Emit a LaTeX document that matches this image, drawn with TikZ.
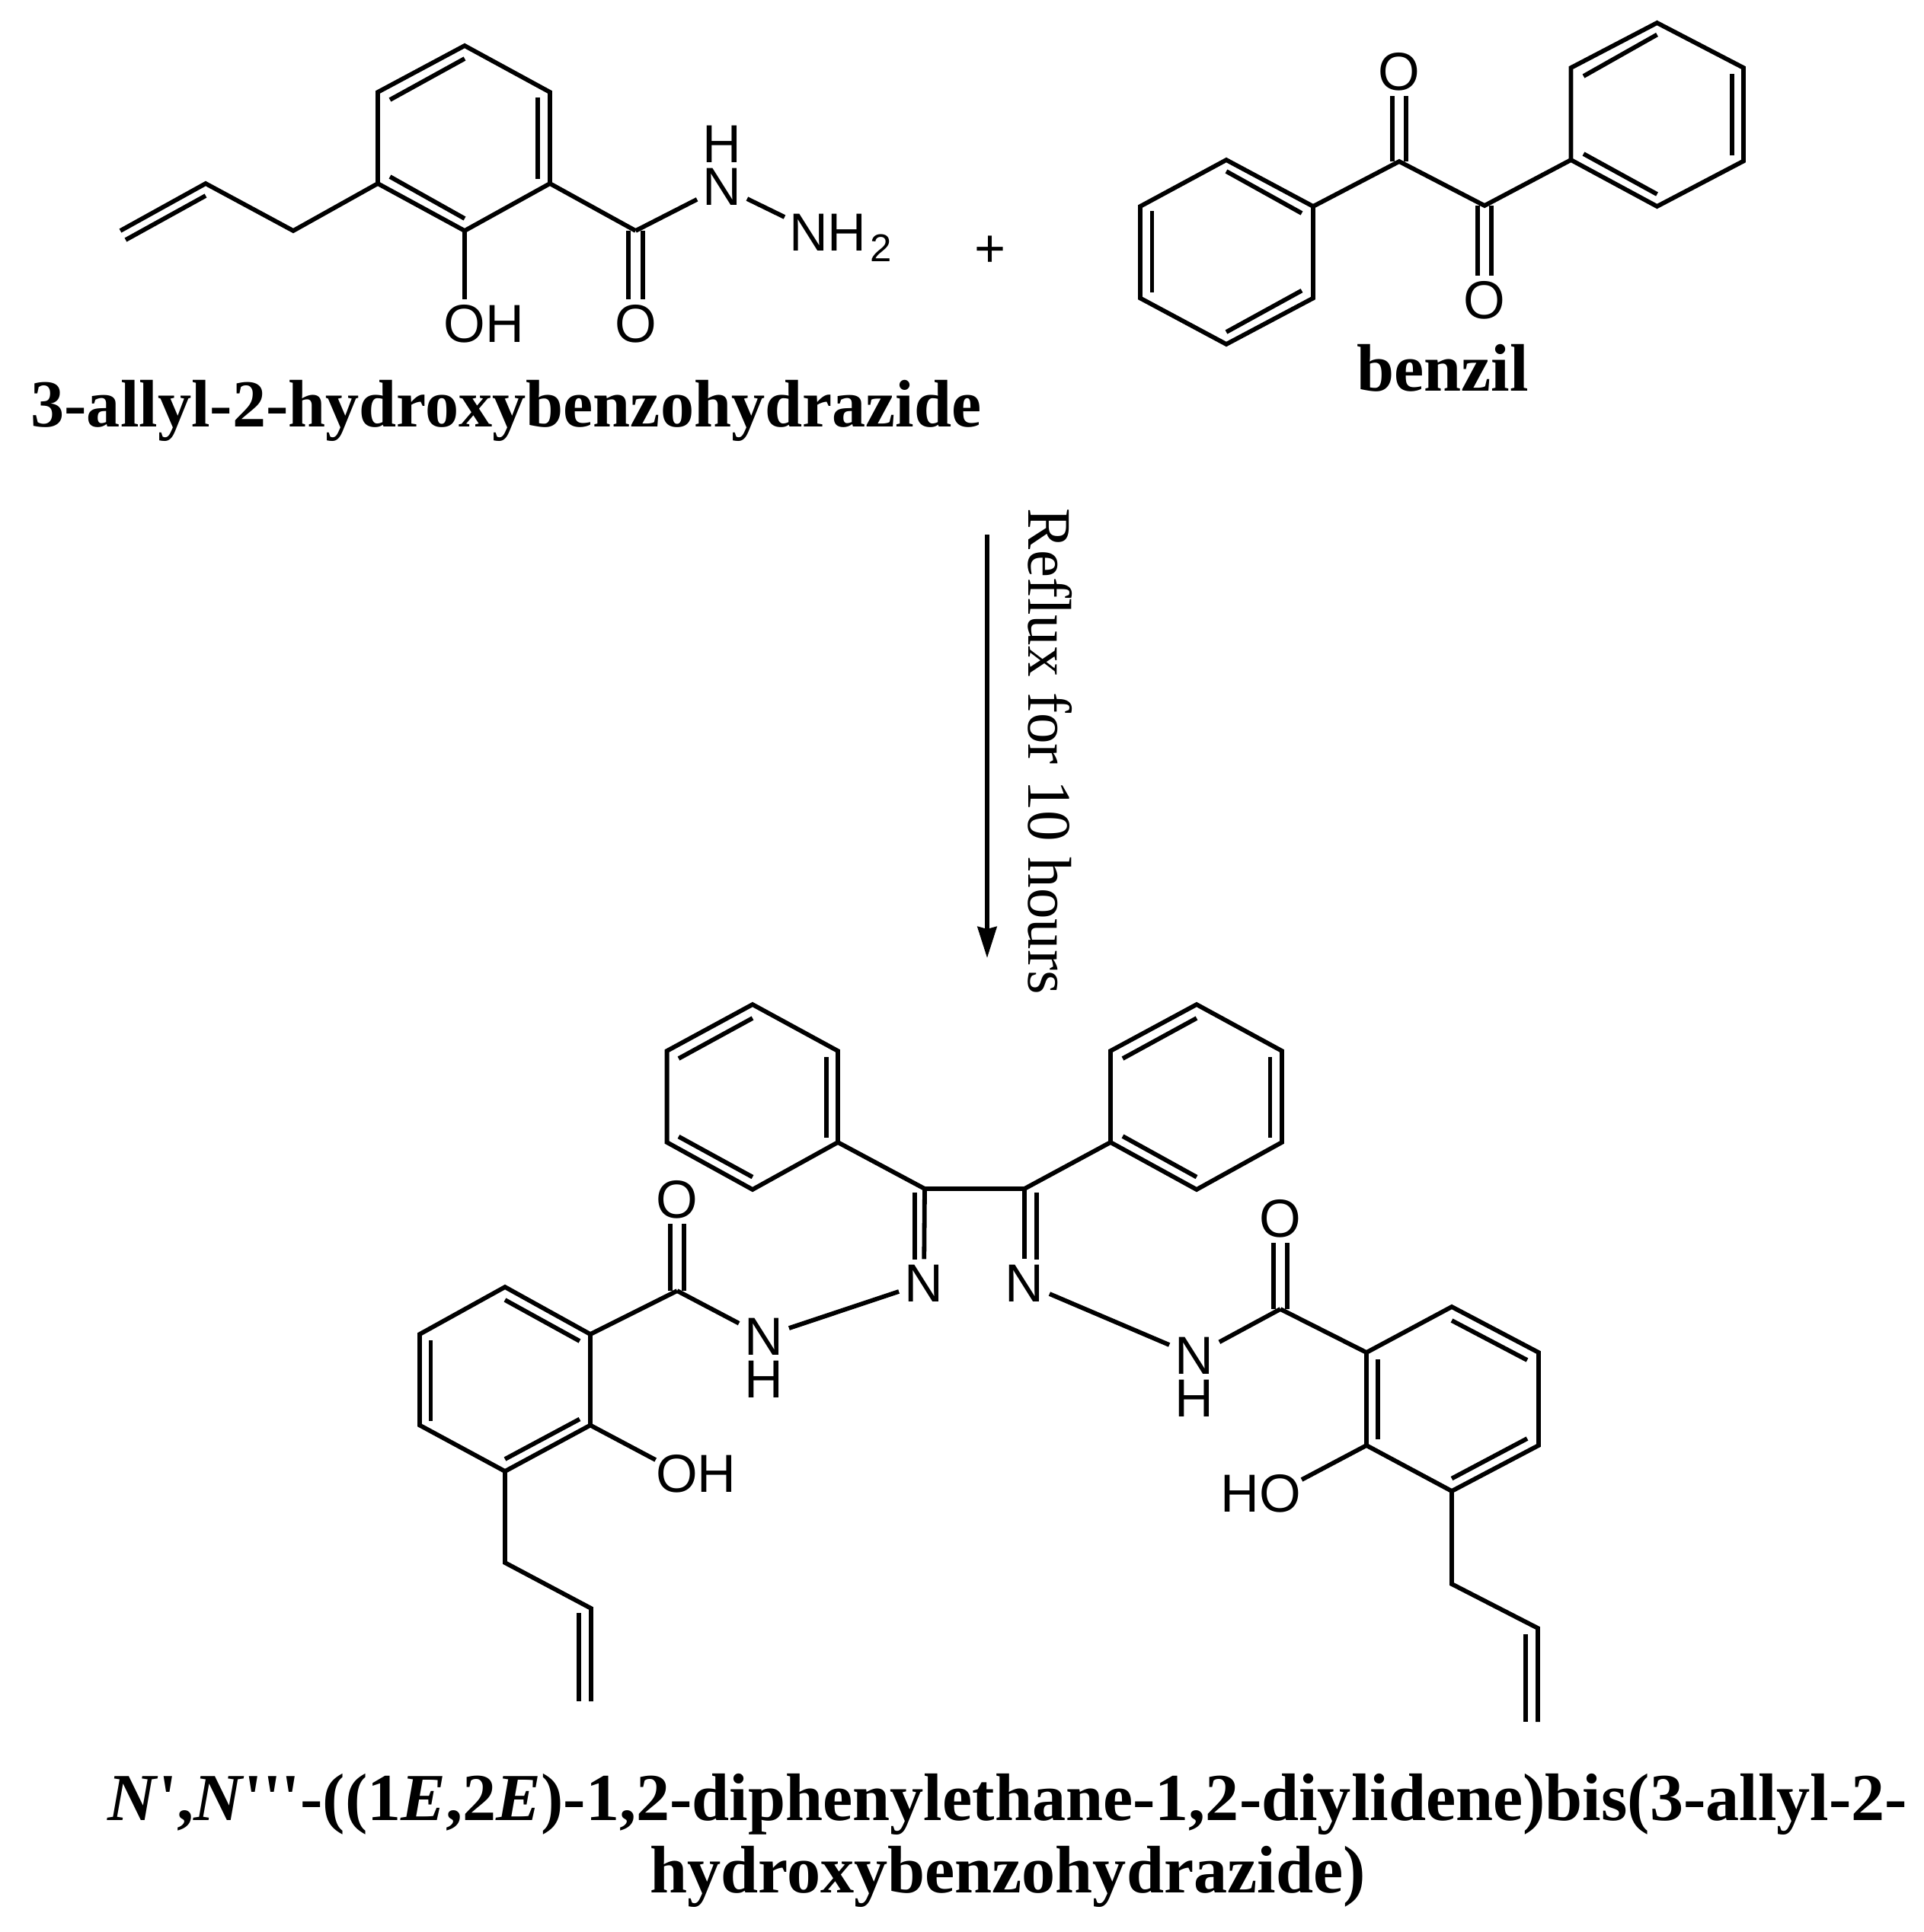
\documentclass[tikz,border=0pt]{standalone}
\usepackage{fontspec}
\usetikzlibrary{arrows.meta}
\newfontfamily\atomfont{Liberation Sans}
\newfontfamily\namefont[Ligatures=NoCommon]{Liberation Serif}

\begin{document}
\begin{tikzpicture}[
    line width=.058cm,
    atomnode/.style={font=\atomfont\fontsize{20pt}{22pt}\selectfont, inner sep=0pt, outer sep=.075cm},
    namenode/.style={font=\namefont\bfseries\fontsize{25.1pt}{27pt}\selectfont, inner sep=0pt, align=center},
    dblbond/.style={double, double distance=.125cm},
    ]
    \useasboundingbox (0,0) rectangle (25.25,-25.37);

    % hydrazide, top left
    \coordinate (a1) at (6.10,-.60);
    \coordinate (a2) at (7.22,-1.21);
    \coordinate (a3) at (7.22,-2.41);
    \coordinate (a4) at (6.10,-3.03);
    \coordinate (a5) at (4.96,-2.41);
    \coordinate (a6) at (4.96,-1.21);
    \coordinate (a7) at (3.85,-3.03);
    \coordinate (a8) at (2.70,-2.41);
    \coordinate (a9) at (1.58,-3.03);
    \coordinate (a10) at (8.345,-3.03);
    \coordinate (a1i) at (6.10,-.77);
    \coordinate (a6i) at (5.12,-1.31);
    \coordinate (a2i) at (7.06,-1.28);
    \coordinate (a3i) at (7.06,-2.35);
    \coordinate (a5i) at (5.12,-2.32);
    \coordinate (a4i) at (6.10,-2.87);
    \coordinate (a8i) at (2.70,-2.57);
    \coordinate (a9i) at (1.65,-3.15);
    \coordinate (a11) at (10.30,-2.85);

    \node [atomnode] (oh1) at (6.355,-4.255) {OH};
    \node [atomnode] (o1) at (8.345,-4.255) {O};
    \node [atomnode] (n1) at (9.48,-2.45) {N};
    \node [atomnode] (h1) at (9.48,-1.89) {H};
    \node [atomnode, anchor=base west, outer sep=0pt] (nh2) at (10.36,-3.29) {NH\kern.05cm\raisebox{-.14cm}{\fontsize{14.5pt}{15pt}\selectfont 2}};
    \node [atomnode] (plus) at (13.00,-3.30) {+};

    \draw [dblbond] (a10) -- (o1);
    \draw (a1) -- (a2) -- (a3) -- (a4) -- (a5) -- (a6) -- cycle;
    \draw (a9) -- (a8) -- (a7) -- (a5);
    \draw (a3) -- (a10);
    \draw (a4) -- (a4 |- oh1.north);
    \draw (a10) -- (n1);
    \draw (n1) -- (a11);
    \draw (a1i) -- (a6i);
    \draw (a2i) -- (a3i);
    \draw (a5i) -- (a4i);
    \draw (a8i) -- (a9i);

    % benzil, top right
    \coordinate (b1) at (16.10,-2.10);
    \coordinate (b2) at (17.24,-2.71);
    \coordinate (b3) at (17.24,-3.915);
    \coordinate (b4) at (16.10,-4.52);
    \coordinate (b5) at (14.97,-3.915);
    \coordinate (b6) at (14.97,-2.71);
    \coordinate (b7) at (18.37,-2.12);
    \coordinate (b8) at (19.49,-2.70);
    \coordinate (c1) at (20.625,-2.10);
    \coordinate (c2) at (20.625,-.89);
    \coordinate (c3) at (21.755,-.30);
    \coordinate (c4) at (22.89,-.89);
    \coordinate (c5) at (22.89,-2.115);
    \coordinate (c6) at (21.755,-2.71);
    \coordinate (b1i) at (16.10,-2.25);
    \coordinate (b2i) at (17.09,-2.80);
    \coordinate (b3i) at (17.09,-3.816);
    \coordinate (b4i) at (16.10,-4.36);
    \coordinate (b5i) at (15.125,-3.836);
    \coordinate (b6i) at (15.125,-2.77);
    \coordinate (c1i) at (20.79,-2.02);
    \coordinate (c2i) at (20.79,-1.00);
    \coordinate (c3i) at (21.755,-.455);
    \coordinate (c4i) at (22.74,-.97);
    \coordinate (c5i) at (22.74,-2.04);
    \coordinate (c6i) at (21.755,-2.55);

    \node [atomnode] (o2) at (18.37,-.94) {O};
    \node [atomnode] (o3) at (19.49,-3.94) {O};

    \draw [dblbond] (b7) -- (o2);
    \draw [dblbond] (b8) -- (o3);
    \draw (b1) -- (b2) -- (b3) -- (b4) -- (b5) -- (b6) -- cycle;
    \draw (c1) -- (c2) -- (c3) -- (c4) -- (c5) -- (c6) -- cycle;
    \draw (b2) -- (b7) -- (b8) -- (c1);
    \draw (b1i) -- (b2i);
    \draw (b3i) -- (b4i);
    \draw (b5i) -- (b6i);
    \draw (c1i) -- (c6i);
    \draw (c2i) -- (c3i);
    \draw (c4i) -- (c5i);

    % reaction arrow
    \coordinate (r1) at (12.96,-7.02);
    \coordinate (r2) at (12.96,-12.58);
    \draw [-{Stealth[length=.41cm,width=.25cm,inset=.03cm]}] (r1) -- (r2);
    \node [font=\namefont\fontsize{23.1pt}{25pt}\selectfont, rotate=-90, anchor=base west, inner sep=0pt] (reflux) at (13.50,-6.65) {Reflux for 10 hours};

    % product, phenyl rings
    \coordinate (d1) at (9.88,-13.19);
    \coordinate (d2) at (11.00,-13.80);
    \coordinate (d3) at (11.00,-15.00);
    \coordinate (d4) at (9.88,-15.62);
    \coordinate (d5) at (8.756,-15.00);
    \coordinate (d6) at (8.756,-13.80);
    \coordinate (d1i) at (9.88,-13.37);
    \coordinate (d6i) at (8.91,-13.90);
    \coordinate (d2i) at (10.85,-13.88);
    \coordinate (d3i) at (10.85,-14.94);
    \coordinate (d5i) at (8.91,-14.925);
    \coordinate (d4i) at (9.88,-15.456);
    \coordinate (e1) at (15.71,-13.19);
    \coordinate (e2) at (16.83,-13.80);
    \coordinate (e3) at (16.83,-15.00);
    \coordinate (e4) at (15.71,-15.62);
    \coordinate (e5) at (14.58,-15.00);
    \coordinate (e6) at (14.58,-13.80);
    \coordinate (e1i) at (15.71,-13.37);
    \coordinate (e6i) at (14.74,-13.90);
    \coordinate (e2i) at (16.675,-13.88);
    \coordinate (e3i) at (16.675,-14.94);
    \coordinate (e5i) at (14.74,-14.92);
    \coordinate (e4i) at (15.71,-15.456);
    \coordinate (m1) at (12.14,-15.61);
    \coordinate (m2) at (13.45,-15.61);
    \coordinate (m1i) at (12.006,-15.66);
    \coordinate (m1j) at (12.006,-16.54);
    \coordinate (m2i) at (13.61,-15.66);
    \coordinate (m2j) at (13.61,-16.54);

    \node [atomnode] (n2) at (12.13,-16.85) {N};
    \node [atomnode] (n3) at (13.45,-16.85) {N};

    \draw (d1) -- (d2) -- (d3) -- (d4) -- (d5) -- (d6) -- cycle;
    \draw (e1) -- (e2) -- (e3) -- (e4) -- (e5) -- (e6) -- cycle;
    \draw (d3) -- (m1) -- (m2) -- (e5);
    \draw (m1) -- (n2);
    \draw (m2) -- (n3);
    \draw (m1i) -- (m1j);
    \draw (m2i) -- (m2j);
    \draw (d1i) -- (d6i);
    \draw (d2i) -- (d3i);
    \draw (d5i) -- (d4i);
    \draw (e1i) -- (e6i);
    \draw (e2i) -- (e3i);
    \draw (e5i) -- (e4i);

    % product, left arm
    \coordinate (f1) at (6.63,-16.90);
    \coordinate (f2) at (7.75,-17.52);
    \coordinate (f3) at (7.75,-18.715);
    \coordinate (f4) at (6.63,-19.32);
    \coordinate (f5) at (5.51,-18.715);
    \coordinate (f6) at (5.51,-17.52);
    \coordinate (f7) at (8.89,-16.95);
    \coordinate (f8) at (6.63,-20.52);
    \coordinate (f9) at (7.76,-21.12);
    \coordinate (f10) at (7.76,-22.34);
    \coordinate (f1i) at (6.63,-17.07);
    \coordinate (f2i) at (7.61,-17.61);
    \coordinate (f3i) at (7.61,-18.635);
    \coordinate (f4i) at (6.63,-19.16);
    \coordinate (f5i) at (5.655,-18.66);
    \coordinate (f6i) at (5.655,-17.60);
    \coordinate (f9i) at (7.60,-21.18);
    \coordinate (f10i) at (7.60,-22.34);
    \coordinate (f11) at (8.607,-19.17);

    \node [atomnode] (o4) at (8.89,-15.75) {O};
    \node [atomnode] (n4) at (10.03,-17.55) {N};
    \node [atomnode] (h4) at (10.03,-18.11) {H};
    \node [atomnode] (oh2) at (9.14,-19.35) {OH};

    \draw [dblbond] (f7) -- (o4);
    \draw (f1) -- (f2) -- (f3) -- (f4) -- (f5) -- (f6) -- cycle;
    \draw (f4) -- (f8) -- (f9) -- (f10);
    \draw (f2) -- (f7);
    \draw (f7) -- (n4);
    \draw (n4) -- (n2);
    \draw (f3) -- (f11);
    \draw (f1i) -- (f2i);
    \draw (f3i) -- (f4i);
    \draw (f5i) -- (f6i);
    \draw (f9i) -- (f10i);

    % product, right arm
    \coordinate (g1) at (19.06,-17.16);
    \coordinate (g2) at (20.20,-17.76);
    \coordinate (g3) at (20.20,-18.98);
    \coordinate (g4) at (19.06,-19.58);
    \coordinate (g5) at (17.94,-18.98);
    \coordinate (g6) at (17.94,-17.76);
    \coordinate (g7) at (16.81,-17.19);
    \coordinate (g8) at (19.06,-20.80);
    \coordinate (g9) at (20.19,-21.38);
    \coordinate (g10) at (20.19,-22.61);
    \coordinate (g1i) at (19.06,-17.34);
    \coordinate (g2i) at (20.05,-17.86);
    \coordinate (g3i) at (20.05,-18.89);
    \coordinate (g4i) at (19.06,-19.415);
    \coordinate (g5i) at (18.09,-18.90);
    \coordinate (g6i) at (18.09,-17.85);
    \coordinate (g9i) at (20.03,-21.46);
    \coordinate (g10i) at (20.03,-22.61);
    \coordinate (g11) at (17.09,-19.43);

    \node [atomnode] (o5) at (16.81,-16.00) {O};
    \node [atomnode] (n5) at (15.68,-17.80) {N};
    \node [atomnode] (h5) at (15.68,-18.36) {H};
    \node [atomnode] (oh3) at (16.55,-19.61) {HO};

    \draw [dblbond] (g7) -- (o5);
    \draw (g1) -- (g2) -- (g3) -- (g4) -- (g5) -- (g6) -- cycle;
    \draw (g4) -- (g8) -- (g9) -- (g10);
    \draw (g6) -- (g7);
    \draw (g7) -- (n5);
    \draw (n5) -- (n3);
    \draw (g5) -- (g11);
    \draw (g1i) -- (g2i);
    \draw (g3i) -- (g4i);
    \draw (g5i) -- (g6i);
    \draw (g9i) -- (g10i);

    % compound names
    \node [namenode, anchor=base] (name1) at (6.645,-5.60) {3-allyl-2-hydroxybenzohydrazide};
    \node [namenode, anchor=base] (name2) at (18.94,-5.13) {benzil};
    \node [namenode] (name3) at (13.23,-24.17) {\textit{N}',\textit{N}'''-((1\textit{E},2\textit{E})-1,2-diphenylethane-1,2-diylidene)bis(3-allyl-2-\\hydroxybenzohydrazide)};

\end{tikzpicture}
\end{document}
